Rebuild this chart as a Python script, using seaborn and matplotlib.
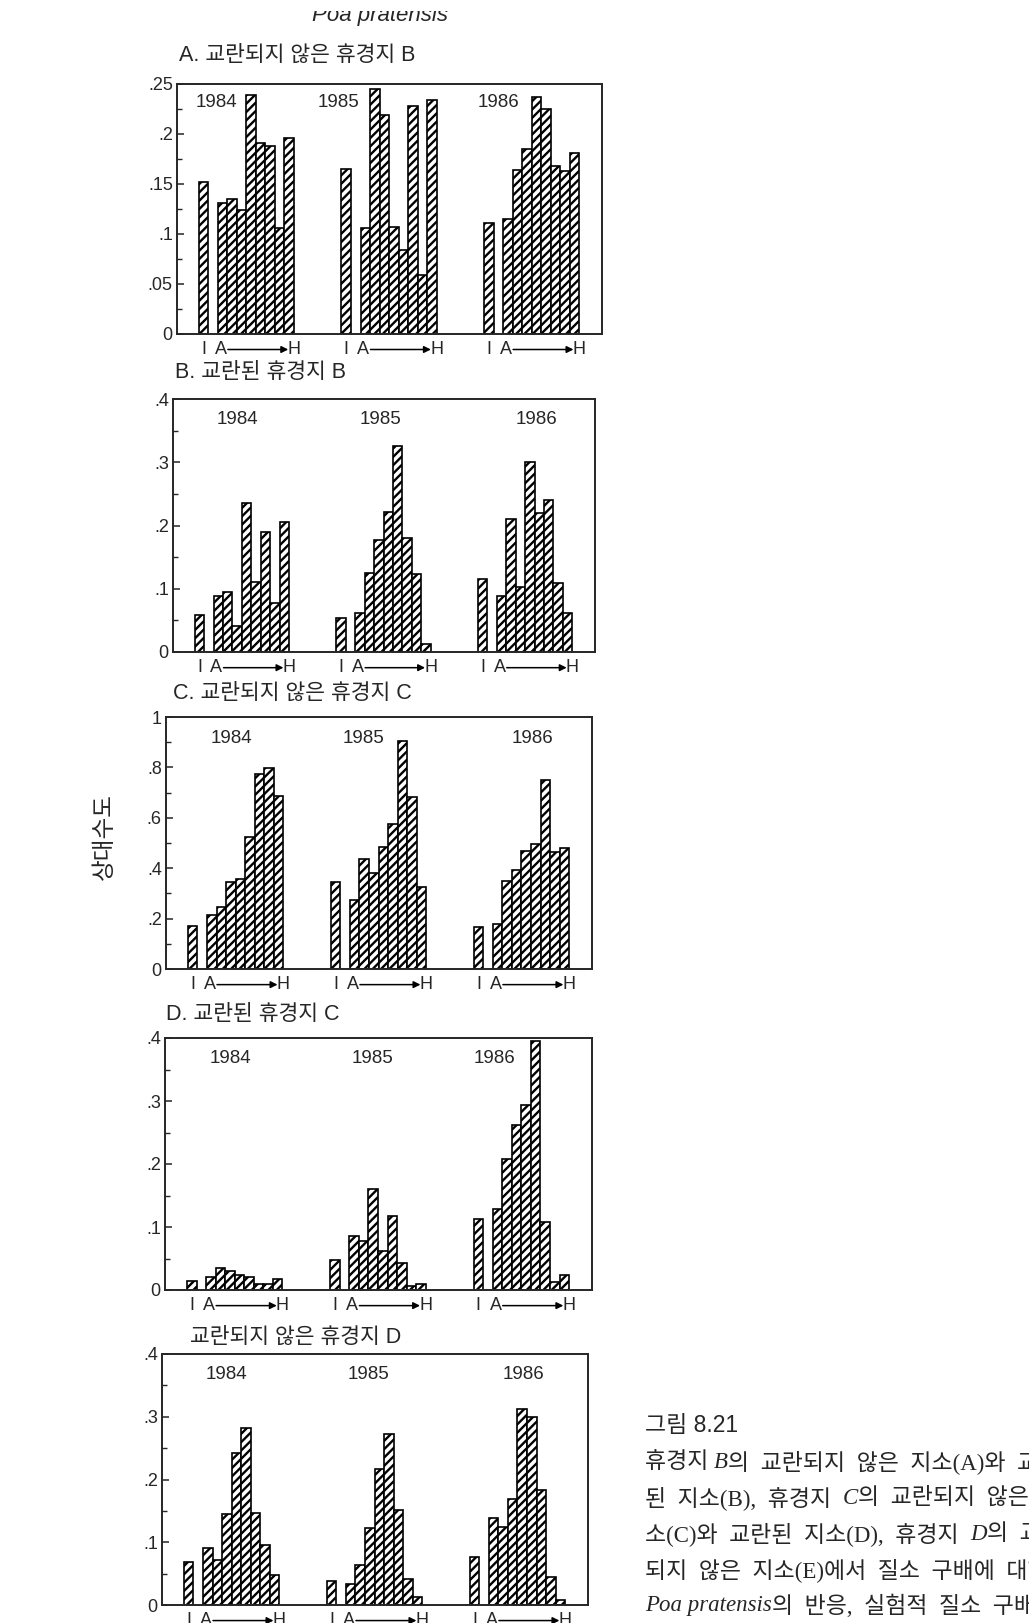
import numpy as np
import pandas as pd
import matplotlib
matplotlib.use('Agg')
import matplotlib.pyplot as plt
from matplotlib.transforms import Bbox, TransformedBbox, blended_transform_factory
import seaborn as sns

# 연도와 크기 등급 (I, A..H)
years = ['1984', '1985', '1986']
classes = ['I', 'A', 'B', 'C', 'D', 'E', 'F', 'G', 'H']

# A. 교란되지 않은 휴경지 B
panelA = [[0.152, 0.131, 0.135, 0.124, 0.239, 0.191, 0.188, 0.106, 0.196],
          [0.165, 0.106, 0.245, 0.219, 0.107, 0.084, 0.228, 0.059, 0.234],
          [0.111, 0.115, 0.164, 0.185, 0.237, 0.225, 0.168, 0.163, 0.181]]
# B. 교란된 휴경지 B
panelB = [[0.059, 0.088, 0.095, 0.041, 0.236, 0.110, 0.189, 0.077, 0.206],
          [0.053, 0.062, 0.125, 0.177, 0.221, 0.325, 0.180, 0.124, 0.012],
          [0.115, 0.088, 0.210, 0.103, 0.300, 0.219, 0.240, 0.109, 0.062]]
# C. 교란되지 않은 휴경지 C
panelC = [[0.169, 0.216, 0.245, 0.344, 0.358, 0.524, 0.774, 0.798, 0.685],
          [0.344, 0.275, 0.437, 0.381, 0.484, 0.577, 0.903, 0.681, 0.325],
          [0.165, 0.180, 0.348, 0.392, 0.470, 0.496, 0.749, 0.464, 0.479]]
# D. 교란된 휴경지 C
panelD = [[0.014, 0.021, 0.035, 0.030, 0.024, 0.020, 0.009, 0.010, 0.017],
          [0.048, 0.085, 0.077, 0.160, 0.062, 0.118, 0.043, 0.007, 0.010],
          [0.112, 0.129, 0.208, 0.262, 0.294, 0.396, 0.108, 0.013, 0.024]]
# 교란되지 않은 휴경지 D
panelE = [[0.069, 0.091, 0.072, 0.145, 0.243, 0.282, 0.146, 0.096, 0.048],
          [0.038, 0.033, 0.063, 0.122, 0.216, 0.272, 0.152, 0.041, 0.013],
          [0.076, 0.138, 0.125, 0.169, 0.312, 0.300, 0.184, 0.044, 0.008]]

titles = ['A. 교란되지 않은 휴경지 B', 'B. 교란된 휴경지 B', 'C. 교란되지 않은 휴경지 C',
          'D. 교란된 휴경지 C', '교란되지 않은 휴경지 D']

yticks_A = [0, 0.05, 0.1, 0.15, 0.2, 0.25]
ylabels_A = ['0', '.05', '.1', '.15', '.2', '.25']
yticks_B = [0, 0.1, 0.2, 0.3, 0.4]
ylabels_B = ['0', '.1', '.2', '.3', '.4']
yticks_C = [0, 0.2, 0.4, 0.6, 0.8, 1.0]
ylabels_C = ['0', '.2', '.4', '.6', '.8', '1']

W, H = 1029, 1623
sns.set_style('ticks')
plt.rcParams['font.family'] = ['Liberation Sans', 'Noto Sans CJK KR']
plt.rcParams['hatch.linewidth'] = 1.7
fig = plt.figure(figsize=(W / 100, H / 100), dpi=100)

# 패널 배치 (픽셀: left, top, right, bottom)
panels = [
    dict(data=panelA, rect=(177, 84, 602, 334), title=(179, 55), ylim=0.25,
         ticks=yticks_A, labels=ylabels_A, minor=0.025, yx=[1.3, 14.2, 31.0], yy=0.925),
    dict(data=panelB, rect=(173, 399, 595, 652), title=(175, 373), ylim=0.4,
         ticks=yticks_B, labels=ylabels_B, minor=0.05, yx=[4.0, 19.2, 35.7], yy=0.92),
    dict(data=panelC, rect=(166, 717, 592, 969), title=(173, 693), ylim=1.0,
         ticks=yticks_C, labels=ylabels_C, minor=0.1, yx=[4.1, 17.9, 35.7], yy=0.915),
    dict(data=panelD, rect=(165, 1038, 592, 1290), title=(166, 1015), ylim=0.4,
         ticks=yticks_B, labels=ylabels_B, minor=0.05, yx=[4.0, 18.9, 31.7], yy=0.92),
    dict(data=panelE, rect=(162, 1354, 588, 1605), title=(190, 1337), ylim=0.4,
         ticks=yticks_B, labels=ylabels_B, minor=0.05, yx=[4.0, 18.9, 35.1], yy=0.92),
]

slot = {c: (0 if c == 'I' else i + 1) for i, c in enumerate(classes)}
group_gap = 15

for p, title in zip(panels, titles):
    l, t, r, b = p['rect']
    ax = fig.add_axes([l / W, 1 - b / H, (r - l) / W, (b - t) / H])
    rows = []
    for g, (yr, vals) in enumerate(zip(years, p['data'])):
        for c, v in zip(classes, vals):
            rows.append({'pos': g * group_gap + slot[c], 'value': v, 'year': yr})
    df = pd.DataFrame(rows)
    sns.barplot(data=df, x='pos', y='value', native_scale=True, width=1.0,
                color='white', edgecolor='black', linewidth=1.2, hatch='////',
                errorbar=None, ax=ax)
    ax.set_xlim(-2.8, 41.9)
    ax.set_ylim(0, p['ylim'])
    ax.set_xticks([])
    ax.set_yticks(p['ticks'])
    ax.set_yticklabels(p['labels'])
    ax.set_yticks(np.arange(0, p['ylim'] + 1e-9, p['minor']), minor=True)
    ax.tick_params(axis='y', which='major', direction='in', length=5, width=1.1,
                   labelsize=13, pad=3)
    ax.tick_params(axis='y', which='minor', direction='in', length=3.5, width=1.0)
    ax.set_xlabel('')
    ax.set_ylabel('')
    for s in ax.spines.values():
        s.set_linewidth(1.4)
        s.set_visible(True)

    trans = blended_transform_factory(ax.transData, ax.transAxes)
    for g, yr in enumerate(years):
        o = g * group_gap
        ax.text(p['yx'][g], p['yy'], yr, transform=trans, ha='center', va='center', fontsize=13.5)
        ax.text(o + 0, -0.062, 'I', transform=trans, ha='center', va='center', fontsize=13)
        ax.text(o + 1.8, -0.062, 'A', transform=trans, ha='center', va='center', fontsize=13)
        ax.text(o + 9.5, -0.062, 'H', transform=trans, ha='center', va='center', fontsize=13)
        ax.annotate('', xy=(o + 8.9, -0.062), xytext=(o + 2.55, -0.062),
                    xycoords=trans, textcoords=trans, annotation_clip=False,
                    arrowprops=dict(arrowstyle='-|>', lw=1.1, color='black',
                                    mutation_scale=10, shrinkA=0, shrinkB=0))

    fig.text(p['title'][0] / W, 1 - p['title'][1] / H, title, ha='left', va='center',
             fontsize=15.5)

# 상단 제목 (스캔에서 위쪽이 잘려 있음)
poa = fig.text(380 / W, 1 - 21 / H, 'Poa pratensis', ha='center', va='baseline',
               style='italic', fontsize=16)
poa.set_clip_box(TransformedBbox(Bbox([[0, 0], [1, 1 - 11 / H]]), fig.transFigure))
poa.set_clip_on(True)

fig.text(105 / W, 1 - 837 / H, '상대수도', rotation=90, ha='center', va='center', fontsize=17)

# 그림 설명
tax = fig.add_axes([0, 0, 1, 1])
tax.axis('off')
tax.set_xlim(0, W)
tax.set_ylim(H, 0)
cap_font = ['Liberation Serif', 'Noto Sans CJK KR']
tax.text(645, 1425, '그림 8.21', ha='left', va='center', fontsize=16.5)
caption_lines = [
    [('휴경지 ', 'normal'), ('B', 'italic'), ('의  교란되지  않은  지소(A)와  교란', 'normal')],
    [('된  지소(B),  휴경지  ', 'normal'), ('C', 'italic'), ('의  교란되지  않은  지', 'normal')],
    [('소(C)와  교란된  지소(D),  휴경지  ', 'normal'), ('D', 'italic'), ('의  교란', 'normal')],
    [('되지  않은  지소(E)에서  질소  구배에  대한', 'normal')],
    [('Poa pratensis', 'italic'), ('의  반응,  실험적  질소  구배', 'normal')],
]
line_y = [1462, 1498, 1534, 1570, 1606]
for parts, y in zip(caption_lines, line_y):
    prev = None
    for txt, st in parts:
        if prev is None:
            prev = tax.text(645, y, txt, ha='left', va='center', fontsize=16.5,
                            style=st, family=cap_font)
        else:
            prev = tax.annotate(txt, xy=(1, 0.5), xycoords=prev, ha='left', va='center',
                                fontsize=16.5, style=st, family=cap_font,
                                annotation_clip=False)

fig.savefig('out.png', dpi=100)
